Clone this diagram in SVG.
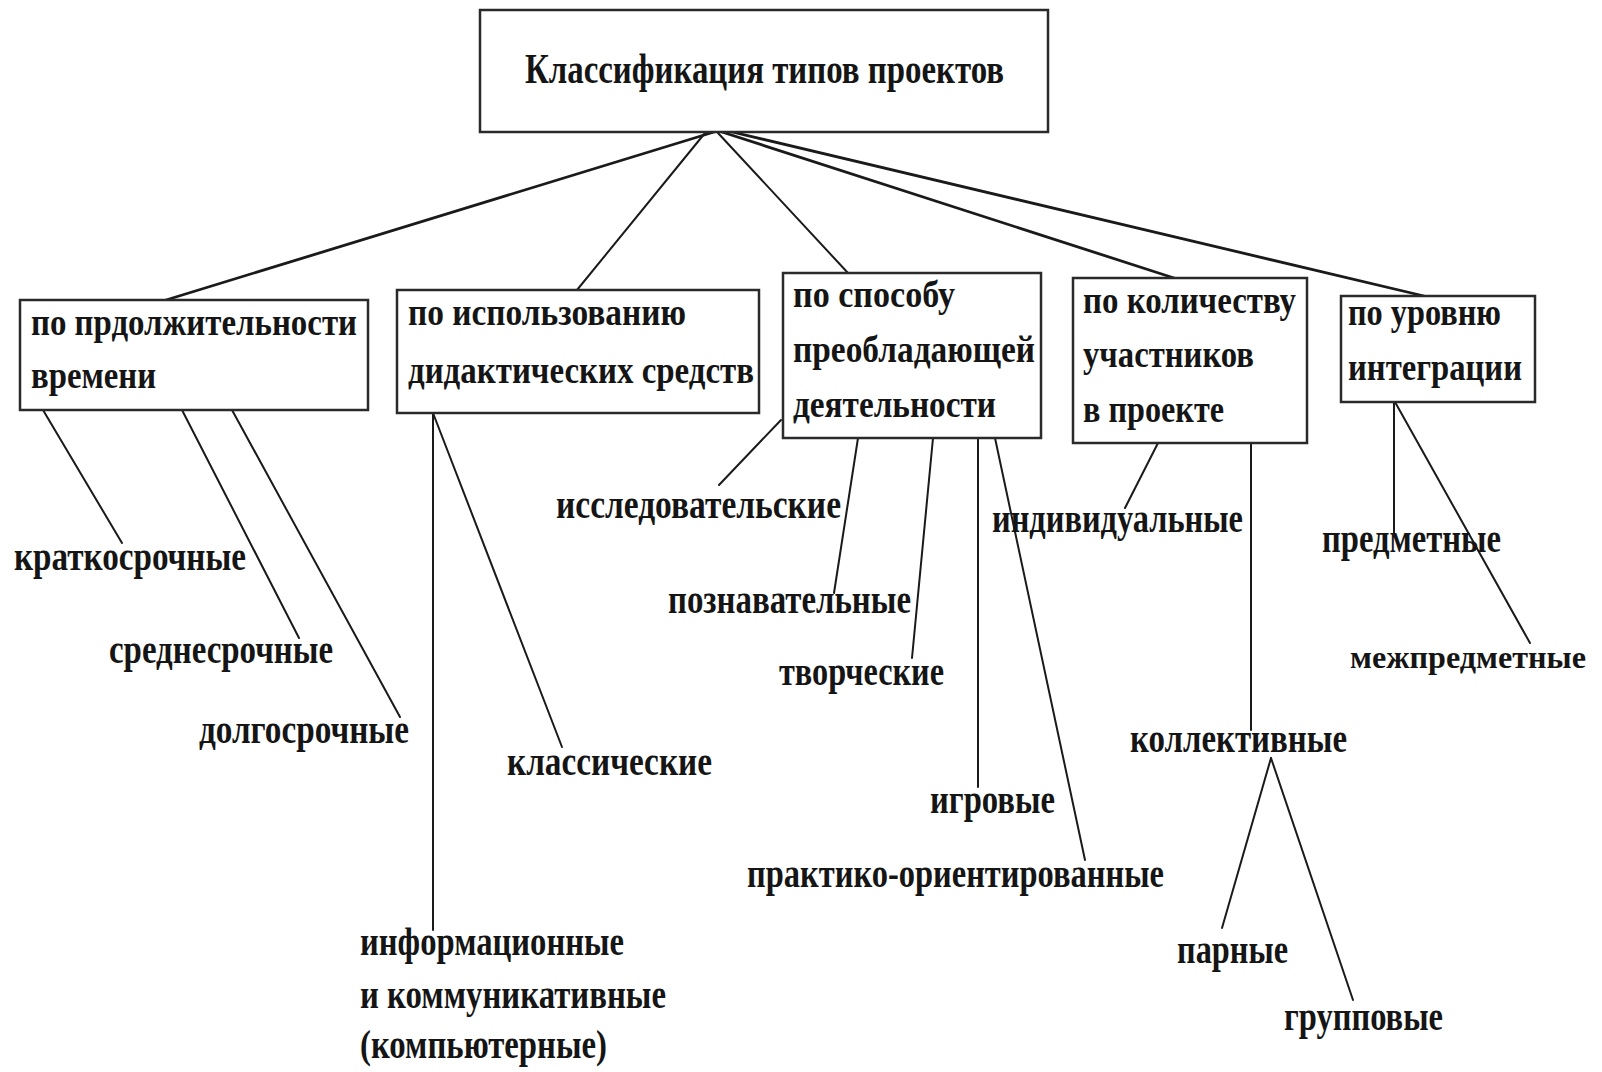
<svg xmlns="http://www.w3.org/2000/svg" width="1602" height="1072" viewBox="0 0 1602 1072">
<style>
.box{fill:#fff;stroke:#2a2a2a;stroke-width:2.5}
.t{font-family:"Liberation Serif","Times New Roman",serif;font-weight:bold;font-size:41px;fill:#151515}
.b{font-size:37px}
.h{font-size:43px}
.s{font-size:31px}
.c{stroke:#1a1a1a;stroke-width:2;fill:none;stroke-linecap:round}
.ch{stroke:#1a1a1a;stroke-width:2.8;fill:none;stroke-linecap:round}
</style>
<rect x="0" y="0" width="1602" height="1072" fill="#fff"/>
<g id="connectors">
<line class="ch" x1="714" y1="132" x2="166" y2="300"/>
<line class="c" x1="705" y1="133" x2="577" y2="290"/>
<line class="c" x1="718" y1="133" x2="848" y2="273"/>
<line class="ch" x1="722" y1="132" x2="1174" y2="278"/>
<line class="ch" x1="728" y1="131" x2="1424" y2="296"/>
<line class="c" x1="43" y1="410" x2="122" y2="543"/>
<line class="c" x1="182" y1="410" x2="299" y2="638"/>
<line class="c" x1="232" y1="410" x2="400" y2="717"/>
<line class="c" x1="433" y1="413" x2="433" y2="930"/>
<line class="c" x1="433" y1="413" x2="562" y2="747"/>
<line class="c" x1="781" y1="420" x2="719" y2="485"/>
<line class="c" x1="858" y1="438" x2="834" y2="593"/>
<line class="c" x1="933" y1="438" x2="912" y2="658"/>
<line class="c" x1="978" y1="438" x2="978" y2="787"/>
<line class="c" x1="995" y1="438" x2="1085" y2="860"/>
<line class="c" x1="1158" y1="443" x2="1125" y2="508"/>
<line class="c" x1="1251" y1="443" x2="1251" y2="730"/>
<line class="c" x1="1394" y1="402" x2="1394" y2="533"/>
<line class="c" x1="1395" y1="402" x2="1530" y2="643"/>
<line class="c" x1="1271" y1="758" x2="1222" y2="928"/>
<line class="c" x1="1271" y1="758" x2="1353" y2="1000"/>
</g>
<g id="root">
<rect class="box" x="480" y="10" width="568" height="122"/>
<text class="t h" x="525" y="83" textLength="479" lengthAdjust="spacingAndGlyphs">Классификация типов проектов</text>
</g>
<g id="n-duration">
<rect class="box" x="20" y="300" width="348" height="110"/>
<text class="t b" x="31" y="335" textLength="326" lengthAdjust="spacingAndGlyphs">по прдолжительности</text>
<text class="t b" x="31" y="388" textLength="125" lengthAdjust="spacingAndGlyphs">времени</text>
</g>
<g id="n-didactic">
<rect class="box" x="397" y="290" width="362" height="123"/>
<text class="t b" x="408" y="325" textLength="278" lengthAdjust="spacingAndGlyphs">по использованию</text>
<text class="t b" x="408" y="383" textLength="346" lengthAdjust="spacingAndGlyphs">дидактических средств</text>
</g>
<g id="n-activity">
<rect class="box" x="783" y="273" width="258" height="165"/>
<text class="t b" x="793" y="307" textLength="162" lengthAdjust="spacingAndGlyphs">по способу</text>
<text class="t b" x="793" y="362" textLength="242" lengthAdjust="spacingAndGlyphs">преобладающей</text>
<text class="t b" x="793" y="417" textLength="203" lengthAdjust="spacingAndGlyphs">деятельности</text>
</g>
<g id="n-participants">
<rect class="box" x="1073" y="278" width="234" height="165"/>
<text class="t b" x="1083" y="313" textLength="213" lengthAdjust="spacingAndGlyphs">по количеству</text>
<text class="t b" x="1083" y="367" textLength="171" lengthAdjust="spacingAndGlyphs">участников</text>
<text class="t b" x="1083" y="422" textLength="141" lengthAdjust="spacingAndGlyphs">в проекте</text>
</g>
<g id="n-integration">
<rect class="box" x="1341" y="296" width="194" height="106"/>
<text class="t b" x="1348" y="325" textLength="153" lengthAdjust="spacingAndGlyphs">по уровню</text>
<text class="t b" x="1348" y="380" textLength="174" lengthAdjust="spacingAndGlyphs">интеграции</text>
</g>
<g id="l-short"><text class="t" x="14" y="570" textLength="232" lengthAdjust="spacingAndGlyphs">краткосрочные</text></g>
<g id="l-medium"><text class="t" x="109" y="663" textLength="224" lengthAdjust="spacingAndGlyphs">среднесрочные</text></g>
<g id="l-long"><text class="t" x="199" y="743" textLength="210" lengthAdjust="spacingAndGlyphs">долгосрочные</text></g>
<g id="l-classic"><text class="t" x="507" y="775" textLength="205" lengthAdjust="spacingAndGlyphs">классические</text></g>
<g id="l-info">
<text class="t" x="360" y="955" textLength="264" lengthAdjust="spacingAndGlyphs">информационные</text>
<text class="t" x="360" y="1008" textLength="306" lengthAdjust="spacingAndGlyphs">и коммуникативные</text>
<text class="t" x="360" y="1058" textLength="247" lengthAdjust="spacingAndGlyphs">(компьютерные)</text>
</g>
<g id="l-research"><text class="t" x="556" y="518" textLength="285" lengthAdjust="spacingAndGlyphs">исследовательские</text></g>
<g id="l-cognitive"><text class="t" x="668" y="613" textLength="243" lengthAdjust="spacingAndGlyphs">познавательные</text></g>
<g id="l-creative"><text class="t" x="779" y="685" textLength="165" lengthAdjust="spacingAndGlyphs">творческие</text></g>
<g id="l-game"><text class="t" x="930" y="813" textLength="125" lengthAdjust="spacingAndGlyphs">игровые</text></g>
<g id="l-practice"><text class="t" x="747" y="887" textLength="417" lengthAdjust="spacingAndGlyphs">практико-ориентированные</text></g>
<g id="l-individual"><text class="t" x="992" y="532" textLength="251" lengthAdjust="spacingAndGlyphs">индивидуальные</text></g>
<g id="l-collective"><text class="t" x="1130" y="752" textLength="217" lengthAdjust="spacingAndGlyphs">коллективные</text></g>
<g id="l-pair"><text class="t" x="1177" y="963" textLength="111" lengthAdjust="spacingAndGlyphs">парные</text></g>
<g id="l-group"><text class="t" x="1284" y="1030" textLength="159" lengthAdjust="spacingAndGlyphs">групповые</text></g>
<g id="l-subject"><text class="t" x="1322" y="552" textLength="179" lengthAdjust="spacingAndGlyphs">предметные</text></g>
<g id="l-inter"><text class="t s" x="1350" y="668" textLength="236" lengthAdjust="spacingAndGlyphs">межпредметные</text></g>
</svg>
